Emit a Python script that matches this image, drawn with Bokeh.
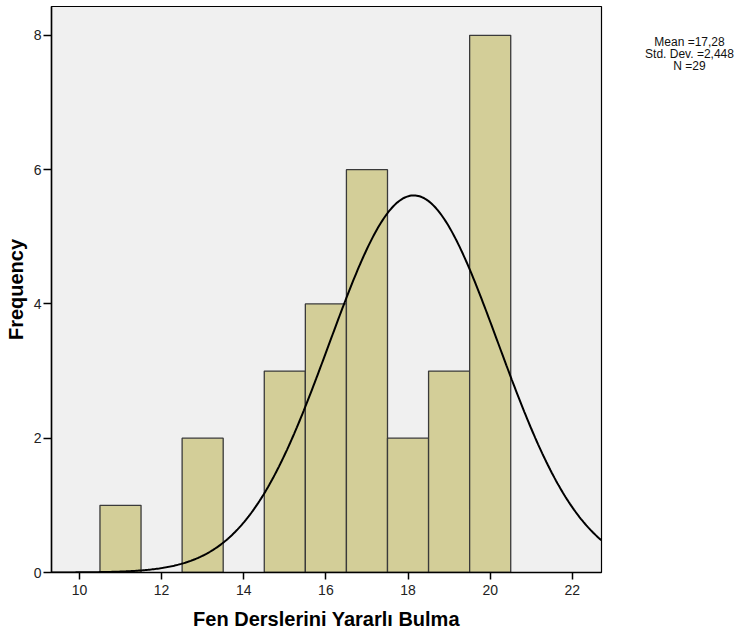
import numpy as np
from bokeh.plotting import figure
from bokeh.layouts import row
from bokeh.models import Range1d, FixedTicker
from bokeh.core.properties import value
from bokeh.embed import file_html
from bokeh.resources import INLINE

# Histogram of scores (bin width 1, centred on integers)
score_values = [11, 13, 15, 16, 17, 18, 19, 20]
frequencies = [1, 2, 3, 4, 6, 2, 3, 8]

x_ticks = [10, 12, 14, 16, 18, 20, 22]
y_ticks = [0, 2, 4, 6, 8]

stats_lines = ["Mean =17,28", "Std. Dev. =2,448", "N =29"]

# Normal curve overlay parameters (as plotted), scaled to counts
curve_mean = 18.14
curve_sd = 2.06
n_cases = 29
bin_width = 1.0

x_min, x_max = 9.32, 22.71
y_min, y_max = 0.0, 8.43

FONT = "Liberation Sans"

p = figure(
    width=603, height=640,
    output_backend="svg", toolbar_location=None,
    x_range=Range1d(x_min, x_max), y_range=Range1d(y_min, y_max),
    min_border_left=51, min_border_right=2,
    min_border_top=6, min_border_bottom=68,
)
p.background_fill_color = "#F0F0F0"
p.border_fill_color = "white"
p.outline_line_color = "black"
p.outline_line_width = 1.2
p.xgrid.visible = False
p.ygrid.visible = False

lefts = [v - bin_width / 2 for v in score_values]
rights = [v + bin_width / 2 for v in score_values]
p.quad(left=lefts, right=rights, bottom=0, top=frequencies,
       fill_color="#D3CE98", line_color="#3a3a3a", line_width=1.3)

xs = np.linspace(x_min, x_max, 400)
ys = n_cases * bin_width / (curve_sd * np.sqrt(2 * np.pi)) * np.exp(-((xs - curve_mean) ** 2) / (2 * curve_sd ** 2))
p.line(xs, ys, line_color="black", line_width=2)

for ax in (p.xaxis[0], p.yaxis[0]):
    ax.axis_line_color = "black"
    ax.axis_line_width = 1.5
    ax.major_tick_line_color = "black"
    ax.major_tick_line_width = 1.5
    ax.minor_tick_line_color = None
    ax.major_tick_in = 0
    ax.major_label_text_font = FONT
    ax.major_label_text_font_size = "14px"
    ax.major_label_text_color = "#222222"
    ax.axis_label_text_font = FONT
    ax.axis_label_text_font_size = "20px"
    ax.axis_label_text_font_style = "bold"
    ax.axis_label_text_color = "black"

p.xaxis.ticker = FixedTicker(ticks=x_ticks)
p.yaxis.ticker = FixedTicker(ticks=y_ticks)
p.xaxis.major_tick_out = 7
p.yaxis.major_tick_out = 8
p.xaxis.major_label_standoff = 5
p.yaxis.major_label_standoff = 2
p.xaxis.axis_label = "Fen Derslerini Yararlı Bulma"
p.yaxis.axis_label = "Frequency"
p.xaxis.axis_label_standoff = 10
p.yaxis.axis_label_standoff = 4

# Side panel holding the summary statistics (pixel-based ranges)
side = figure(
    width=152, height=640,
    output_backend="svg", toolbar_location=None,
    x_range=Range1d(0, 152), y_range=Range1d(0, 640),
    x_axis_type=None, y_axis_type=None,
    min_border_left=0, min_border_right=0,
    min_border_top=0, min_border_bottom=0,
)
side.outline_line_color = None
side.background_fill_color = "white"
side.border_fill_color = "white"
side.xgrid.visible = False
side.ygrid.visible = False

side.text(
    x=[86, 86, 86], y=[600, 586.5, 573], text=stats_lines,
    text_font=value(FONT), text_font_size="12px", text_color="#111111",
    text_align="center", text_baseline="middle",
)

layout = row(p, side, spacing=0)
open("out.html", "w").write(file_html(layout, INLINE))
